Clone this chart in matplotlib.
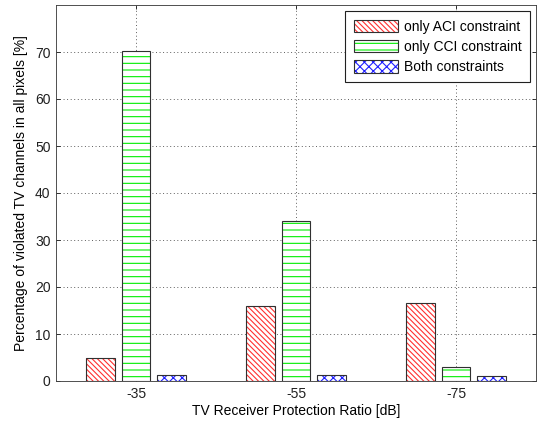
import numpy as np
import matplotlib.pyplot as plt

plt.rcParams['font.family'] = ['Liberation Sans', 'DejaVu Sans']
plt.rcParams['hatch.linewidth'] = 1.0

ratios = ['-35', '-55', '-75']
aci = [4.9, 16.0, 16.7]
cci = [70.3, 34.0, 2.9]
both = [1.3, 1.3, 1.0]
labels = ['only ACI constraint', 'only CCI constraint', 'Both constraints']
colors = ['#ff3030', '#00ee00', '#2020ff']
hatches = ['\\\\\\\\\\', '--', 'xxx']

dpi = 80
fs = 12.5
fig = plt.figure(figsize=(542 / dpi, 425 / dpi), dpi=dpi)
ax = fig.add_axes([56 / 542, 44 / 425, 480 / 542, 376 / 425])

x = np.arange(1, len(ratios) + 1)
off = 0.2222
w = 0.178
edge = '#303030'
handles = []
for i, (vals, c, h) in enumerate(zip([aci, cci, both], colors, hatches)):
    pos = x + (i - 1) * off
    hb = ax.bar(pos, vals, w, color='white', edgecolor=c, hatch=h, linewidth=0, zorder=2)
    eb = ax.bar(pos, vals, w, fill=False, edgecolor=edge, linewidth=1.0, zorder=3)
    handles.append((hb[0], eb[0]))

ax.set_xlim(0.5, 3.5)
ax.set_ylim(0, 80)
ax.set_xticks(x)
ax.set_xticklabels(ratios)
ax.set_yticks(np.arange(0, 71, 10))
ax.tick_params(direction='in', top=True, right=True, labelsize=fs, colors='#202020', length=4, pad=5)
ax.grid(True, linestyle=(0, (1, 3)), color='#404040', linewidth=0.8, zorder=0)
ax.set_axisbelow(True)
for s in ax.spines.values():
    s.set_color('#404040')

ax.set_xlabel('TV Receiver Protection Ratio [dB]', fontsize=fs, labelpad=3)
ax.set_ylabel('Percentage of violated TV channels in all pixels [%]', fontsize=fs, labelpad=6)

leg = ax.legend(handles, labels, loc='upper right', fontsize=fs, fancybox=False,
                framealpha=1, edgecolor='#202020', handlelength=3.2, handleheight=1.0,
                borderaxespad=0.45, labelspacing=0.45, handletextpad=0.4, borderpad=0.6)
leg.get_frame().set_linewidth(1.0)

fig.savefig('out.png', dpi=dpi)
